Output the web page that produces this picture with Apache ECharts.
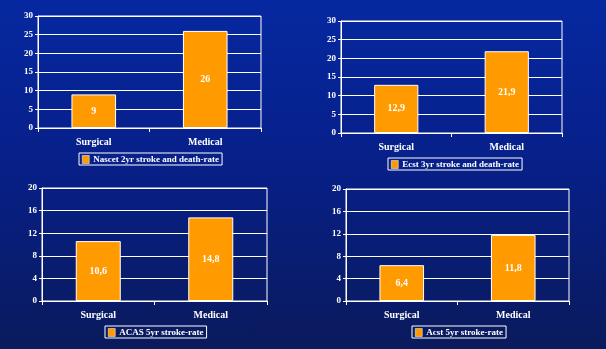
<!DOCTYPE html>
<html><head><meta charset="utf-8">
<script src="https://cdn.jsdelivr.net/npm/echarts@6/dist/echarts.min.js"></script>
<style>html,body{margin:0;padding:0;}#c{width:606px;height:349px;background:linear-gradient(180deg,#0628a0 0%,#07208a 45%,#0a1a5c 100%);}</style>
</head><body><div id="c"></div>
<script>
const categories = ['Surgical', 'Medical'];
const seriesNames = ['Nascet 2yr stroke and death-rate', 'Ecst 3yr stroke and death-rate', 'ACAS 5yr stroke-rate', 'Acst 5yr stroke-rate'];
const nascet = [9, 26];
const ecst = [12.9, 21.9];
const acas = [10.6, 14.8];
const acst = [6.4, 11.8];
const yMax = [30, 30, 20, 20];
const yInterval = [5, 5, 4, 4];

const values = [nascet, ecst, acas, acst];
const grids = [
  {left: 38, top: 16, width: 223, height: 112},
  {left: 341, top: 21, width: 221, height: 112},
  {left: 42, top: 188, width: 225, height: 113},
  {left: 346, top: 189, width: 223, height: 112}
];
const legendPos = [
  {left: 79, top: 153},
  {left: 388, top: 158},
  {left: 105, top: 326},
  {left: 412, top: 326}
];
const font = '"Liberation Serif", "DejaVu Serif", serif';
const fmt = v => String(v).replace('.', ',');

const option = {
  animation: false,
  textStyle: {fontFamily: font},
  grid: grids.map(g => Object.assign({show: true, borderColor: '#ffffff', borderWidth: 1, backgroundColor: 'transparent', containLabel: false}, g)),
  xAxis: grids.map((g, i) => ({
    type: 'category', gridIndex: i, data: categories,
    axisLine: {lineStyle: {color: '#ffffff', width: 1}},
    axisTick: {show: true, length: 4, lineStyle: {color: '#ffffff'}},
    axisLabel: {color: '#ffffff', fontWeight: 'bold', fontSize: 10, fontFamily: font, margin: 9}
  })),
  yAxis: grids.map((g, i) => ({
    type: 'value', gridIndex: i, min: 0, max: yMax[i], interval: yInterval[i],
    axisLine: {show: true, lineStyle: {color: '#ffffff', width: 1}},
    axisTick: {show: true, length: 3, lineStyle: {color: '#ffffff'}},
    splitLine: {show: true, lineStyle: {color: '#ffffff', width: 1}},
    axisLabel: {color: '#ffffff', fontWeight: 'bold', fontSize: 9, fontFamily: font, margin: 5}
  })),
  legend: legendPos.map((p, i) => ({
    data: [seriesNames[i]], left: p.left, top: p.top, orient: 'horizontal',
    borderColor: '#ffffff', borderWidth: 1, borderRadius: 0, padding: [2, 3, 1, 3],
    itemWidth: 7, itemHeight: 8, itemGap: 4,
    icon: 'rect',
    itemStyle: {borderColor: '#ffffff', borderWidth: 0.5},
    textStyle: {color: '#ffffff', fontWeight: 'bold', fontSize: 9, fontFamily: font, padding: [0, 0, 0, -1]}
  })),
  series: values.map((v, i) => ({
    name: seriesNames[i], type: 'bar', xAxisIndex: i, yAxisIndex: i, data: v,
    barWidth: '40%',
    itemStyle: {color: '#ff9a00', borderColor: '#ffffff', borderWidth: 1},
    label: {show: true, position: 'inside', color: '#ffffff', fontWeight: 'bold', fontSize: 10, fontFamily: font, formatter: p => fmt(p.value)}
  }))
};
const chart = echarts.init(document.getElementById('c'), null, {renderer: 'canvas'});
chart.setOption(option);
</script></body></html>
